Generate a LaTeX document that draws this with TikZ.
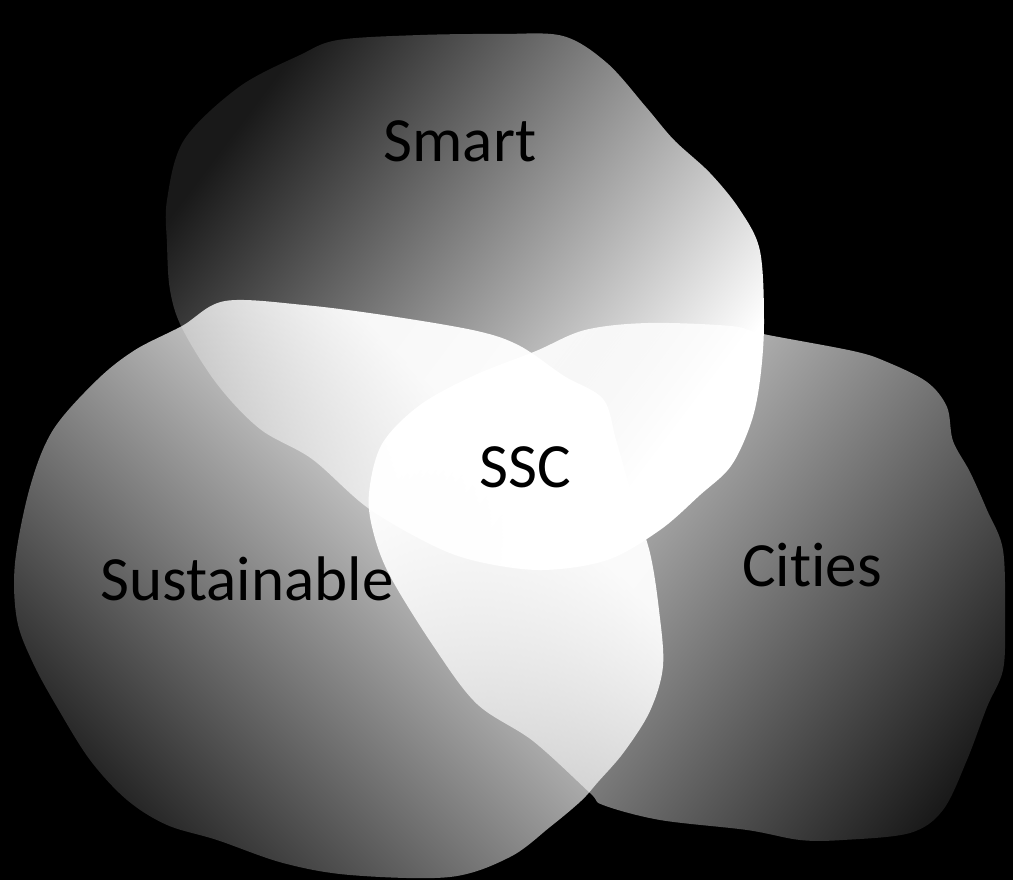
\documentclass[tikz,border=0pt]{standalone}
\usepackage{fontspec}
\setmainfont{Carlito}[Ligatures={NoCommon,NoContextual}]
\pgfdeclareverticalshading{smartsh}{100bp}{color(0bp)=(white); color(37.5bp)=(white); color(62.5bp)=(black!90); color(100bp)=(black!90)}
\pgfdeclareverticalshading{citysh}{100bp}{color(0bp)=(black!90); color(37.5bp)=(black!90); color(62.5bp)=(black!6); color(100bp)=(black!6)}
\pgfdeclareverticalshading{sustsh}{100bp}{color(0bp)=(black!90); color(37.5bp)=(black!90); color(62.5bp)=(black!6); color(100bp)=(black!6)}
\begin{document}
\begin{tikzpicture}[x=1pt,y=-1pt,
  lbl/.style={inner sep=0pt, font=\fontsize{63}{75}\selectfont, text=black},
  blob/.style={smooth cycle, tension=0.55}]
\fill[black] (0,0) rectangle (1013,880);
\useasboundingbox (0,0) rectangle (1013,880);
\begin{scope}[blend mode=screen]
  % Smart
  \begin{scope}
    \clip plot[blob] coordinates {(167,200) (184,140) (239,87) (300,55) (338,40) (420,35) (500,34) (563,36) (607,63) (646,107) (674,140) (710,173) (740,210) (760,251) (764,323) (760,380) (751,423) (731,466) (700,495) (660,530) (607,560) (542,570) (480,562) (434,546) (368,508) (312,459) (260,429) (217,384) (182,328) (170,290) (167,244)};
    \shade[shading=smartsh, shading angle=53] (-26,-323) rectangle (1046,749);
  \end{scope}
  % Sustainable
  \begin{scope}
    \clip plot[blob] coordinates {(182,326) (225,301) (304,305) (390,316) (477,331) (520,346) (564,376) (603,399) (616,440) (633,500) (650,553) (659,610) (663,666) (650,711) (624,752) (598,782) (581,801) (550,827) (510,857) (450,877) (350,875) (283,863) (217,840) (167,825) (127,800) (90,760) (57,707) (33,663) (17,620) (15,563) (30,487) (53,430) (97,380) (135,350)};
    \shade[shading=sustsh, shading angle=-45] (-225,111) rectangle (859,1195);
  \end{scope}
  % Cities
  \begin{scope}
    \clip plot[blob] coordinates {(536,351) (585,330) (648,323) (731,326) (763,334) (853,351) (887,362) (927,382) (947,407) (953,441) (970,472) (987,510) (1003,550) (1005,620) (1003,670) (987,707) (967,760) (943,810) (910,833) (843,840) (800,840) (747,830) (660,820) (603,805) (590,793) (533,741) (477,704) (434,647) (390,576) (373,531) (369,493) (382,444) (420,405) (475,375)};
    \shade[shading=citysh, shading angle=52] (160,-142) rectangle (1420,1118);
  \end{scope}
\end{scope}
\node[lbl, anchor=base] (smart) at (460,162) {Smart};
\node[lbl, anchor=base] (ssc) at (525,487) {SSC};
\node[lbl, anchor=base] (sust) at (247,600) {Sustainable};
\node[lbl, anchor=base] (cities) at (812,586) {Cit\kern0pt ies};
\end{tikzpicture}
\end{document}
